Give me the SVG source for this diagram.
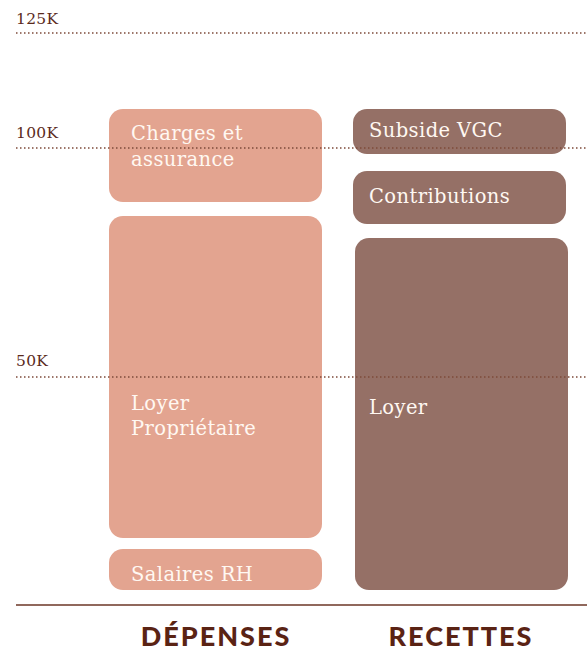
<svg xmlns="http://www.w3.org/2000/svg" width="587" height="651" viewBox="0 0 587 651">
<style>
.dep{fill:#E3A490}
.rec{fill:#957066}
.lbl{font-family:"DejaVu Serif","Liberation Serif",serif;font-size:19.5px;letter-spacing:0.4px;fill:#FFF8F2}
.ax{font-family:"DejaVu Serif","Liberation Serif",serif;font-size:15.5px;letter-spacing:0.3px;fill:#5A2A1C}
.grid{stroke:#7E4A3A;stroke-width:1.5;stroke-dasharray:1.5 2.5;fill:none}
.hdr{font-family:Lato,"Open Sans",sans-serif;font-weight:900;font-size:27px;fill:#5A2314;letter-spacing:2px;text-anchor:middle}
</style>
<rect width="587" height="651" fill="#FFFFFF"/>
<g id="charges"><rect class="dep" x="109" y="109" width="213" height="93" rx="14"/><text class="lbl" x="131" y="140">Charges et</text><text class="lbl" x="131" y="166">assurance</text></g>
<g id="loyer-proprietaire"><rect class="dep" x="109" y="216" width="213" height="322" rx="14"/><text class="lbl" x="131" y="410">Loyer</text><text class="lbl" x="131" y="435">Propriétaire</text></g>
<g id="salaires"><rect class="dep" x="109" y="549" width="213" height="41" rx="14"/><text class="lbl" x="131" y="581">Salaires RH</text></g>
<g id="subside"><rect class="rec" x="353" y="109" width="213" height="45" rx="14"/><text class="lbl" x="369" y="137">Subside VGC</text></g>
<g id="contributions"><rect class="rec" x="353" y="171" width="213" height="53" rx="14"/><text class="lbl" x="369" y="203">Contributions</text></g>
<g id="loyer"><rect class="rec" x="355" y="238" width="213" height="352" rx="14"/><text class="lbl" x="369" y="414">Loyer</text></g>
<g id="axis">
<text class="ax" x="16" y="24">125K</text>
<text class="ax" x="16" y="138">100K</text>
<text class="ax" x="16" y="366">50K</text>
<line class="grid" x1="16" y1="33" x2="587" y2="33"/>
<line class="grid" x1="16" y1="148" x2="587" y2="148"/>
<line class="grid" x1="16" y1="377" x2="587" y2="377"/>
<line x1="16" y1="605" x2="587" y2="605" stroke="#6B3626" stroke-width="1.5"/>
</g>
<text class="hdr" x="216" y="646">DÉPENSES</text>
<text class="hdr" x="461" y="646">RECETTES</text>
</svg>
